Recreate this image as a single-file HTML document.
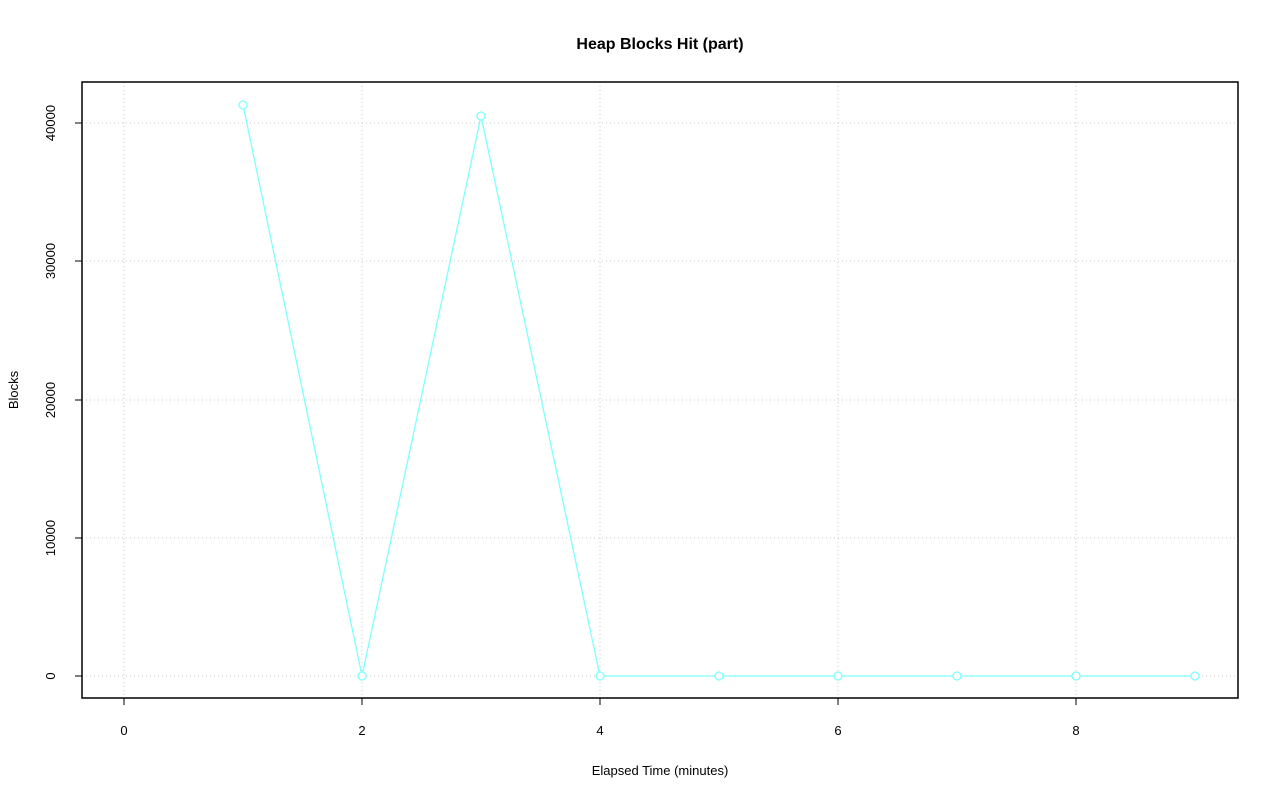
<!DOCTYPE html>
<html><head><meta charset="utf-8"><style>body{margin:0;background:#fff}</style></head>
<body>
<svg width="1280" height="801" xmlns="http://www.w3.org/2000/svg" font-family="Liberation Sans, sans-serif">
<rect width="1280" height="801" fill="#fff"/>
<g stroke="#c8c8c8" stroke-dasharray="1,3" stroke-width="1">
<line x1="124" y1="82" x2="124" y2="698"/><line x1="362" y1="82" x2="362" y2="698"/>
<line x1="600" y1="82" x2="600" y2="698"/><line x1="838" y1="82" x2="838" y2="698"/>
<line x1="1076" y1="82" x2="1076" y2="698"/>
<line x1="82" y1="676" x2="1238" y2="676"/><line x1="82" y1="538" x2="1238" y2="538"/>
<line x1="82" y1="400" x2="1238" y2="400"/><line x1="82" y1="261" x2="1238" y2="261"/>
<line x1="82" y1="123" x2="1238" y2="123"/>
</g>
<polyline fill="none" stroke="#7fffff" stroke-width="1.3" points="243,105 362,676 481,116 600,676 719,676 838,676 957,676 1076,676 1195,676"/>
<g fill="#fff" stroke="#7fffff" stroke-width="1.3">
<circle cx="243" cy="105" r="4"/><circle cx="362" cy="676" r="4"/><circle cx="481" cy="116" r="4"/>
<circle cx="600" cy="676" r="4"/><circle cx="719" cy="676" r="4"/><circle cx="838" cy="676" r="4"/>
<circle cx="957" cy="676" r="4"/><circle cx="1076" cy="676" r="4"/><circle cx="1195" cy="676" r="4"/>
</g>
<rect x="82" y="82" width="1156" height="616" fill="none" stroke="#000" stroke-width="1.5"/>
<g stroke="#000" stroke-width="1">
<line x1="124" y1="698" x2="1076" y2="698"/>
<line x1="124" y1="698" x2="124" y2="705"/><line x1="362" y1="698" x2="362" y2="705"/>
<line x1="600" y1="698" x2="600" y2="705"/><line x1="838" y1="698" x2="838" y2="705"/>
<line x1="1076" y1="698" x2="1076" y2="705"/>
<line x1="82" y1="123" x2="82" y2="676"/>
<line x1="75" y1="676" x2="82" y2="676"/><line x1="75" y1="538" x2="82" y2="538"/>
<line x1="75" y1="400" x2="82" y2="400"/><line x1="75" y1="261" x2="82" y2="261"/>
<line x1="75" y1="123" x2="82" y2="123"/>
</g>
<g font-size="13" text-anchor="middle" fill="#000">
<text x="124" y="735">0</text><text x="362" y="735">2</text><text x="600" y="735">4</text>
<text x="838" y="735">6</text><text x="1076" y="735">8</text>
<text transform="translate(55,676) rotate(-90)">0</text>
<text transform="translate(55,538) rotate(-90)">10000</text>
<text transform="translate(55,400) rotate(-90)">20000</text>
<text transform="translate(55,261) rotate(-90)">30000</text>
<text transform="translate(55,123) rotate(-90)">40000</text>
<text x="660" y="775">Elapsed Time (minutes)</text>
<text transform="translate(18,390) rotate(-90)">Blocks</text>
<text x="660" y="49" font-size="16" font-weight="bold">Heap Blocks Hit (part)</text>
</g>
</svg>
</body></html>
